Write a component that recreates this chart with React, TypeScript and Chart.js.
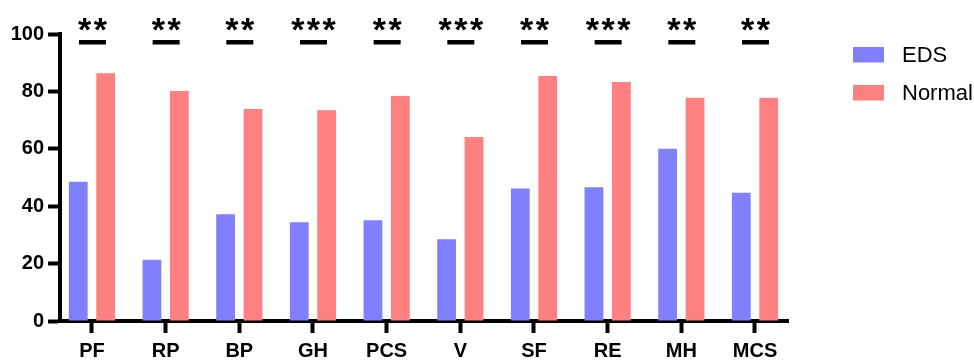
import React, { useEffect, useRef } from "react";
import { Chart, registerables } from "chart.js";

Chart.register(...registerables);

const categories = ["PF", "RP", "BP", "GH", "PCS", "V", "SF", "RE", "MH", "MCS"];
const edsValues = [48.5, 21.3, 37.2, 34.4, 35.1, 28.5, 46.2, 46.6, 60.0, 44.7];
const normalValues = [86.3, 80.1, 73.9, 73.4, 78.4, 64.1, 85.4, 83.3, 77.8, 77.8];
const significance = ["**", "**", "**", "***", "**", "***", "**", "***", "**", "**"];
const yTicks = [0, 20, 40, 60, 80, 100];

const EDS_COLOR = "#8080FF";
const NORMAL_COLOR = "#FF8080";
const FONT = '"Liberation Sans", Arial, sans-serif';

const sigPlugin = {
  id: "sigMarks",
  afterDraw(chart: any) {
    const ctx = chart.ctx;
    const xs = chart.scales.x;
    ctx.save();
    ctx.fillStyle = "#000";
    ctx.font = `bold 34px ${FONT}`;
    ctx.textAlign = "center";
    ctx.textBaseline = "alphabetic";
    const m = ctx.measureText("*");
    const asc = m.actualBoundingBoxAscent;
    const desc = m.actualBoundingBoxDescent;
    const starY = 24;
    const baseline = starY - (desc - asc) / 2;
    const spacing = 15.7;
    significance.forEach((s, i) => {
      const cx = xs.getPixelForValue(i) + 0.5;
      const n = s.length;
      for (let k = 0; k < n; k++) {
        const sx = cx + (k - (n - 1) / 2) * spacing;
        ctx.fillText("*", sx, baseline);
      }
      ctx.fillRect(cx - 13.5, 40, 27, 4.5);
    });
    ctx.restore();
  },
};

const legendPlugin = {
  id: "customLegend",
  afterDraw(chart: any) {
    const ctx = chart.ctx;
    ctx.save();
    ctx.font = `22px ${FONT}`;
    ctx.textAlign = "left";
    ctx.textBaseline = "middle";
    chart.data.datasets.forEach((ds: any, i: number) => {
      const cy = 54.5 + i * 38;
      ctx.fillStyle = ds.backgroundColor;
      ctx.fillRect(853, cy - 7.5, 31, 15.5);
      ctx.fillStyle = "#000";
      ctx.fillText(ds.label, 902, cy + 1);
    });
    ctx.restore();
  },
};

export default function App() {
  const ref = useRef<HTMLCanvasElement>(null);
  useEffect(() => {
    if (!ref.current) return;
    const chart = new Chart(ref.current, {
      type: "bar",
      data: {
        datasets: [
          {
            label: "EDS",
            data: edsValues.map((v, i) => ({ x: i, y: v })),
            backgroundColor: EDS_COLOR,
            borderWidth: 0,
          },
          {
            label: "Normal",
            data: normalValues.map((v, i) => ({ x: i, y: v })),
            backgroundColor: NORMAL_COLOR,
            borderWidth: 0,
          },
        ],
      },
      options: {
        animation: false,
        responsive: true,
        maintainAspectRatio: false,
        layout: { padding: { top: 34, right: 186, left: 0, bottom: 0 } },
        datasets: { bar: { categoryPercentage: 0.744, barPercentage: 0.686 } } as any,
        plugins: { legend: { display: false }, tooltip: { enabled: false } },
        scales: {
          x: {
            type: "linear",
            min: -0.434,
            max: 9.448,
            offset: false,
            afterBuildTicks: (s: any) => {
              s.ticks = categories.map((_, i) => ({ value: i }));
            },
            afterFit: (s: any) => {
              s.height = 39;
            },
            ticks: {
              autoSkip: false,
              maxRotation: 0,
              color: "#000",
              padding: 6,
              font: { family: FONT, size: 20, weight: "bold" },
              callback: (v: any) => categories[v] ?? "",
            },
            grid: {
              display: true,
              offset: false,
              drawOnChartArea: false,
              drawTicks: true,
              tickLength: 12,
              tickWidth: 4,
              tickColor: "#000",
            },
            border: { display: true, width: 4, color: "#000" },
          },
          y: {
            min: 0,
            max: 100,
            afterBuildTicks: (s: any) => {
              s.ticks = yTicks.map((v) => ({ value: v }));
            },
            afterFit: (s: any) => {
              s.width = 60;
            },
            ticks: {
              color: "#000",
              padding: 4,
              font: { family: FONT, size: 20, weight: "bold" },
            },
            grid: {
              display: true,
              drawOnChartArea: false,
              drawTicks: true,
              tickLength: 12,
              tickWidth: 4,
              tickColor: "#000",
            },
            border: { display: true, width: 4, color: "#000" },
          },
        },
      },
      plugins: [sigPlugin, legendPlugin],
    });
    return () => chart.destroy();
  }, []);
  return (
    <div style={{ position: "fixed", left: 0, top: 0, width: 974, height: 360 }}>
      <canvas ref={ref} />
    </div>
  );
}
